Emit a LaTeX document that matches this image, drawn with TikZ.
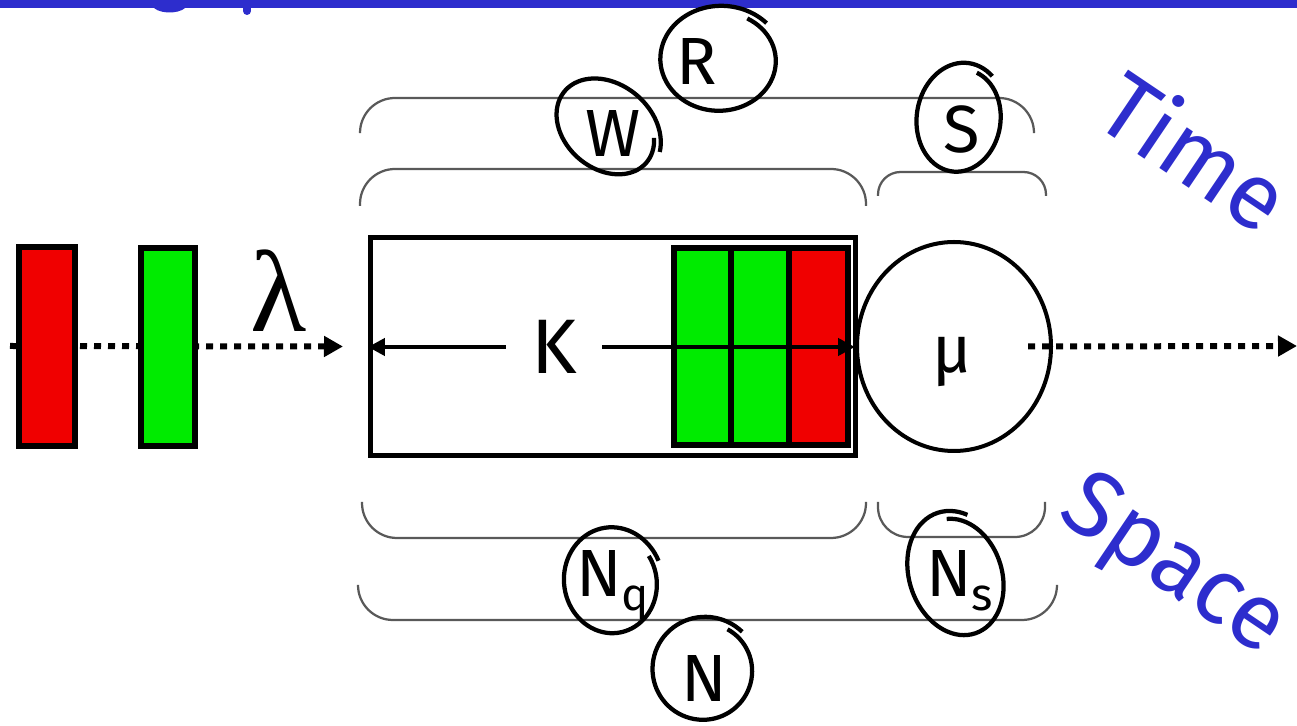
\documentclass[tikz,border=0pt]{standalone}
\usepackage{fontspec}
\setsansfont{Fira Sans}
\newfontfamily\greekserif{Liberation Serif}
\usetikzlibrary{arrows.meta,shapes.geometric}
\definecolor{inkblue}{RGB}{45,45,205}
\definecolor{pktred}{RGB}{240,0,0}
\definecolor{pktgreen}{RGB}{0,235,0}
% hand-drawn ring: centre (#2,#3), radii #4/#5, tilt #6, from angle #7 to #8
\def\handring[#1](#2,#3)(#4:#5:#6:#7:#8){\draw[#1] plot[domain=#7:#8, samples=80, smooth] ({#2+(0.94+0.14*(\x-(#7))/(#8-(#7)))*(#4*cos(\x)*cos(#6)-#5*sin(\x)*sin(#6))}, {#3+(0.94+0.14*(\x-(#7))/(#8-(#7)))*(#4*cos(\x)*sin(#6)+#5*sin(\x)*cos(#6))});}

\begin{document}
\begin{tikzpicture}[x=0.2mm, y=-0.2mm,
    packet/.style={draw=black, line width=1.1mm},
    queuebox/.style={draw=black, line width=1mm, minimum width=97mm, minimum height=43.6mm, inner sep=0pt},
    server/.style={ellipse, draw=black, line width=0.8mm, minimum width=38.8mm, minimum height=41.8mm, inner sep=0pt},
    flow/.style={line width=1.2mm, dash pattern=on 1.4mm off 1.4mm, -{Triangle[length=3.8mm, width=4mm]}},
    kline/.style={line width=0.95mm, -{Triangle[length=3.4mm, width=3.4mm]}},
    span/.style={draw=black!65, line width=0.45mm, rounded corners=7mm},
    tag/.style={font=\sffamily\fontsize{38}{38}\selectfont, inner sep=0pt},
    ring/.style={line width=0.85mm},
    axislabel/.style={text=inkblue, font=\sffamily\fontsize{53}{53}\selectfont, inner sep=0pt}]
    \useasboundingbox (0,0) rectangle (1297,726);

    %%%%% header rule %%%%%
    \fill[inkblue] (0,0) rectangle (1297,8);
    \fill[inkblue] (150,0) .. controls (150,13) and (172,15) .. (182,10) .. controls (188,7) and (190,3) .. (190,0) -- cycle;
    \fill[inkblue] (243,0) rectangle (251,11);
    \fill[inkblue] (247,11) circle (4);

    %%%%% queue and server %%%%%
    \node[queuebox] (queue) at (613,346.5) {};
    \node[server] (server) at (954,346.5) {};
    \node[tag] (rate) at (952,362) {μ};

    \coordinate (src) at (10,346);
    \coordinate (sink) at (1297,346);
    \draw[flow] (src) -- ([xshift=-5mm]queue.west);
    \draw[flow] ([xshift=-5mm]server.east) -- (sink);

    % arriving customers
    \draw[packet, fill=pktred] (19,247) rectangle (75,446);
    \draw[packet, fill=pktgreen] (141,248) rectangle (195,446);
    \node[font=\greekserif\fontsize{66}{66}\selectfont, inner sep=0pt] (arrival) at (279,291) {λ};

    % waiting customers
    \draw[packet, fill=pktgreen] (674,248) rectangle (731,445);
    \draw[packet, fill=pktgreen] (731,248) rectangle (789,445);
    \draw[packet, fill=pktred] (789,248) rectangle (848,445);

    % capacity
    \node[tag, font=\sffamily\fontsize{44}{44}\selectfont, inner xsep=5mm] (cap) at (554,347) {K};
    \draw[kline] (cap.west) -- (cap.west -| queue.west);
    \draw[kline] (cap.east) -- (cap.east -| server.west);

    %%%%% time spans %%%%%
    \draw[span] (360,132) -- (360,98) -- (1034,98) -- (1034,132);
    \draw[span] (360,206) -- (360,169) -- (866,169) -- (866,206);
    \draw[span, rounded corners=4.5mm] (878,196) -- (878,172) -- (1046,172) -- (1046,196);

    \node[tag] (resp) at (697,62) {R};
    \node[tag] (wait) at (613,134) {W};
    \node[tag] (serv) at (962,130) {S};
    \handring[ring](720,60)(58:51:0:-60:318)
    \handring[ring](607,128)(55:42:40:-35:340)
    \handring[ring](960,119)(42:53:8:-75:305)

    \node[axislabel, rotate=-34] (timeword) at (1196,150) {Time};

    %%%%% space spans %%%%%
    \draw[span] (362,502) -- (362,538) -- (866,538) -- (866,502);
    \draw[span, rounded corners=6mm] (878,502) -- (878,537) -- (1045,537) -- (1045,502);
    \draw[span] (358,585) -- (358,620) -- (1057,620) -- (1057,585);

    \node[tag, anchor=base west] (inq) at (576,597) {N\raisebox{-7.5pt}{\fontsize{26}{26}\selectfont q}};
    \node[tag, anchor=base west] (ins) at (926,597) {N\raisebox{-7.5pt}{\fontsize{26}{26}\selectfont s}};
    \node[tag] (insys) at (704,678) {N};
    \handring[ring](612,582)(47:52:-8:-25:345)
    \handring[ring](957,575)(46:61:-18:-80:305)
    \handring[ring](704,670)(50:50:0:-60:315)

    \node[axislabel, rotate=-34] (spaceword) at (1172,568) {Space};
\end{tikzpicture}
\end{document}
